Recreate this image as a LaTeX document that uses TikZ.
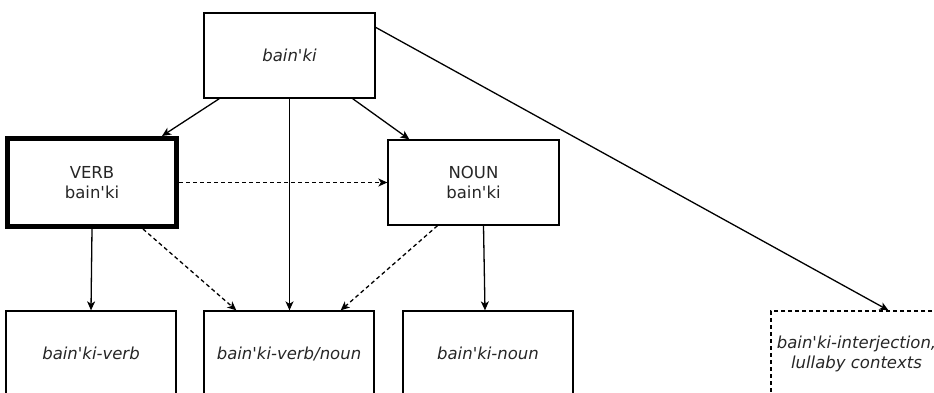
\documentclass[tikz,border=0pt]{standalone}
\usepackage{fontspec}
\newfontfamily\labelfont{DejaVu Sans}
\usetikzlibrary{arrows.meta}
\tikzset{
  box/.style={draw, line width=1.3pt, minimum width=171pt, minimum height=85pt,
    align=center, text=black!85, font=\labelfont\fontsize{16.5}{20}\selectfont},
  wordbox/.style={box, font=\labelfont\fontsize{16.5}{20}\selectfont\itshape},
  headbox/.style={box, line width=5pt, minimum width=169pt, minimum height=88pt},
  openbox/.style={wordbox, dash pattern=on 4pt off 3pt},
  link/.style={-{Stealth[length=9pt,width=8pt,inset=2.5pt]}, line width=1.3pt},
  weak/.style={link, dash pattern=on 4pt off 3pt},
}
\begin{document}
\begin{tikzpicture}[x=1pt,y=-1pt]
  \clip (0,0) rectangle (934,393);
  \node (bainki) [wordbox] at (289.5,55.5) {bain'ki};
  \node (verb) [headbox] at (92,182.5) {VERB\\bain'ki};
  \node (noun) [box] at (473.5,182.5) {NOUN\\bain'ki};
  \node (bverb) [wordbox, minimum width=170pt] at (91,353.5) {bain'ki-verb};
  \node (bboth) [wordbox, minimum width=170pt] at (289,353.5) {bain'ki-verb/noun};
  \node (bnoun) [wordbox, minimum width=170pt] at (488,353.5) {bain'ki-noun};
  \node (binterj) [openbox] at (856.5,353.5) {bain'ki-interjection,\\lullaby contexts};
  \draw[link] ([xshift=16pt]bainki.south west) to ([xshift=-17pt]verb.north east);
  \draw[link] ([xshift=-23pt]bainki.south east) to ([xshift=22pt]noun.north west);
  \draw[link] (bainki.south) to (bainki.south |- bboth.north);
  \draw[link] ([yshift=-15pt]bainki.north east) to ([xshift=32pt]binterj.north);
  \draw[weak] (verb.east) to (noun.west);
  \draw[link] (verb.south) to (bverb.north);
  \draw[weak] ([xshift=-36pt]verb.south east) to ([xshift=33pt]bboth.north west);
  \draw[weak] ([xshift=-36pt]noun.south) to ([xshift=-34pt]bboth.north east);
  \draw[link] ([xshift=10pt]noun.south) to ([xshift=-3pt]bnoun.north);
\end{tikzpicture}
\end{document}
